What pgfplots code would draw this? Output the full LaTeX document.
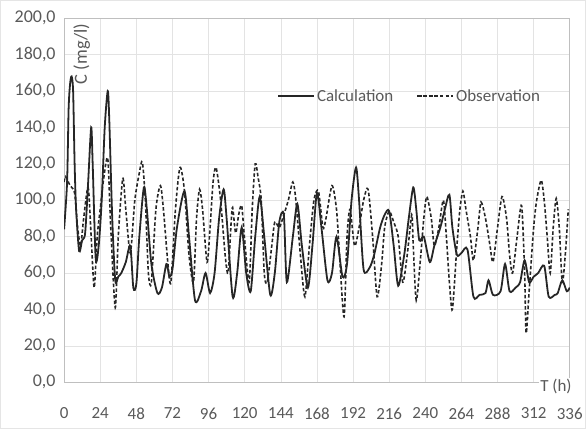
\documentclass[border=0pt]{standalone}
\usepackage{fontspec}
\setmainfont{Carlito}
\usepackage{pgfplots}
\pgfplotsset{compat=1.18}
\definecolor{txt}{HTML}{595959}
\definecolor{ln}{HTML}{262626}
\begin{document}
\begin{tikzpicture}
\begin{axis}[
  width=507pt, height=365pt, scale only axis,
  xmin=0, xmax=336, ymin=0, ymax=200,
  xtick={0,24,...,336}, ytick={0,20,...,200},
  grid=major, grid style={gray!22, line width=0.6pt},
  axis line style={gray!50, line width=0.7pt},
  major tick length=0pt,
  clip mode=individual,
  /pgf/number format/assume math mode=true,
  tick label style={text=txt},
  xticklabel style={font=\fontsize{17}{18}\selectfont, yshift=-22pt},
  yticklabel style={font=\fontsize{18}{19}\selectfont, xshift=-5pt, /pgf/number format/.cd, fixed, fixed zerofill, precision=1, use comma},
  legend style={draw=none, fill=none, at={(axis description cs:0.415,0.785)}, anchor=west,
    font=\fontsize{17}{18}\selectfont, text=txt, column sep=1pt,
    /tikz/every even column/.append style={column sep=22pt},
    nodes={inner xsep=1pt}},
  legend columns=-1,
  legend image code/.code={\draw[#1] plot coordinates {(0pt,0pt) (36pt,0pt)};},
  legend image post style={line width=2pt},
]
\coordinate (bl) at (rel axis cs:0,0);
\coordinate (tr) at (rel axis cs:1,1);
\addplot[ln, line width=1.8pt, smooth, tension=0.45] coordinates {
(0,84)(2,110)(3,150)(4,164)(5,168)(6,160)(7,120)(8,95)(10,72)(12,78)(14,82)(16,110)(18,140)(19,120)(21,68)(23,75)(25,100)(27,140)(29,160)(30,145)(32,90)(34,56)(36,58)(38,60)(41,66)(44,75)(46,52)(48,54)(50,80)(53,107)(55,95)(58,65)(62,49)(65,52)(68,65)(70,58)(72,62)(75,85)(80,105)(83,80)(87,45)(91,50)(94,60)(97,49)(100,60)(103,90)(106,106)(108,90)(112,47)(115,60)(118,85)(121,60)(124,50)(127,80)(130,102)(133,80)(137,48)(140,60)(143,88)(146,92)(148,55)(152,80)(155,98)(158,75)(162,52)(165,75)(168,104)(171,85)(175,56)(178,60)(181,80)(185,58)(188,65)(191,100)(194,118)(196,100)(199,62)(203,63)(206,70)(210,85)(213,92)(216,94)(219,75)(222,53)(226,70)(229,90)(232,107)(234,95)(236,78)(239,80)(243,66)(246,75)(250,85)(253,95)(256,103)(258,85)(261,70)(264,71)(268,73)(272,47)(276,48)(280,49)(282,56)(285,48)(290,50)(293,65)(296,50)(300,52)(303,55)(306,67)(309,55)(312,58)(315,60)(319,64)(322,47)(326,48)(328,49)(331,56)(334,50)(336,52)
};
\addlegendentry{Calculation}
\addplot[ln, line width=1.6pt, dash pattern=on 3.5pt off 2.2pt, smooth, tension=0.45] coordinates {
(0,110)(1,113)(4,108)(7,104)(9,85)(11,75)(13,90)(16,107)(18,80)(20,52)(22,80)(24,95)(26,110)(29,123)(31,85)(34,41)(36,80)(39,112)(41,95)(44,71)(47,100)(50,115)(52,121)(54,100)(56,60)(58,55)(61,95)(64,108)(66,95)(69,65)(71,55)(74,95)(77,118)(80,105)(83,70)(86,55)(88,90)(90,106)(92,95)(95,66)(97,85)(99,110)(101,118)(104,100)(107,70)(109,60)(111,88)(112,96)(114,82)(116,92)(118,97)(120,78)(123,55)(125,95)(127,120)(129,112)(131,100)(133,60)(135,55)(138,75)(140,88)(143,85)(146,92)(149,100)(152,110)(154,100)(157,70)(160,47)(163,75)(166,100)(169,105)(172,85)(174,90)(178,108)(181,95)(183,70)(186,36)(188,80)(190,95)(193,75)(196,85)(199,100)(202,106)(205,80)(208,47)(211,65)(213,85)(216,94)(219,88)(222,80)(225,55)(228,70)(231,92)(232,75)(234,45)(237,70)(239,90)(241,102)(244,90)(246,75)(249,85)(252,100)(254,80)(256,55)(258,40)(261,75)(263,95)(265,105)(267,95)(270,80)(272,67)(275,85)(277,99)(280,90)(283,75)(285,66)(288,85)(291,102)(294,90)(296,70)(298,60)(301,80)(304,97)(306,60)(307,27)(309,50)(312,85)(314,100)(317,111)(319,100)(321,80)(323,60)(325,85)(327,101)(329,85)(331,55)(333,70)(335,95)
};
\addlegendentry{Observation}
\node[rotate=90, anchor=east, font=\fontsize{18.5}{19}\selectfont, text=txt] at (axis description cs:0.035,0.995) {C (mg/l)};
\node[anchor=east, font=\fontsize{17}{18}\selectfont, text=txt, fill=white, inner sep=1pt] at (axis description cs:1.006,-0.012) {T (h)};
\end{axis}
\draw[gray!20, line width=0.5pt] ([xshift=-64pt,yshift=-46pt]bl) rectangle ([xshift=15pt,yshift=18pt]tr);
\end{tikzpicture}
\end{document}
